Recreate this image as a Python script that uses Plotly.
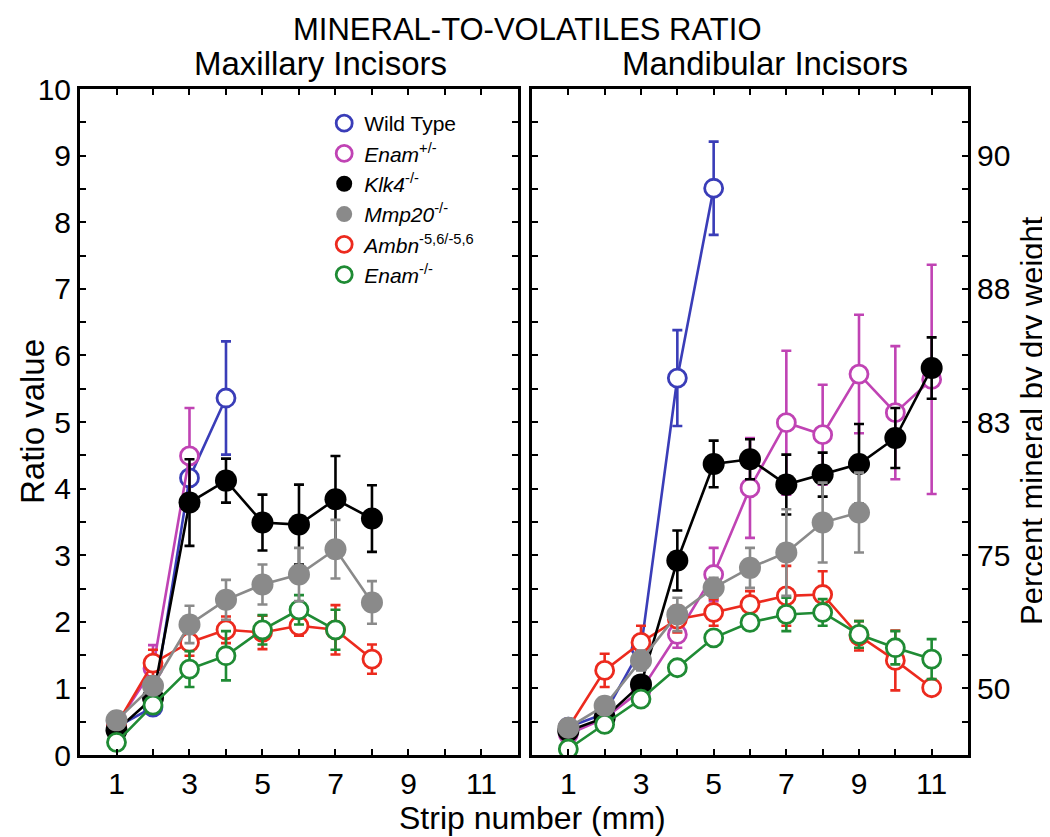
import plotly.graph_objects as go

# ---------------- data ----------------
series_names = ["Wild Type", "<i>Enam</i><sup>+/-</sup>", "<i>Klk4</i><sup>-/-</sup>",
                "<i>Mmp20</i><sup>-/-</sup>", "<i>Ambn</i><sup>-5,6/-5,6</sup>", "<i>Enam</i><sup>-/-</sup>"]
series_colors = ["#3a3db8", "#c043b4", "#000000", "#8a8a8a", "#ec2a1e", "#1f8b34"]
series_filled = [False, False, True, True, False, False]

# Maxillary incisors (left panel)
wt_max = [0.42, 0.72, 4.16, 5.36]
wt_max_err = [0.05, 0.10, 0.35, 0.85]
enh_max = [0.45, 1.30, 4.49]
enh_max_err = [0.05, 0.35, 0.72]
klk_max = [0.37, 0.86, 3.79, 4.12, 3.49, 3.46, 3.84, 3.55]
klk_max_err = [0.05, 0.10, 0.65, 0.33, 0.42, 0.60, 0.65, 0.50]
mmp_max = [0.52, 1.04, 1.96, 2.33, 2.56, 2.71, 3.09, 2.29]
mmp_max_err = [0.05, 0.10, 0.28, 0.30, 0.30, 0.40, 0.44, 0.32]
ambn_max = [0.45, 1.38, 1.69, 1.88, 1.84, 1.94, 1.88, 1.44]
ambn_max_err = [0.05, 0.20, 0.20, 0.20, 0.25, 0.15, 0.37, 0.22]
enko_max = [0.19, 0.75, 1.29, 1.49, 1.88, 2.18, 1.88]
enko_max_err = [0.05, 0.10, 0.27, 0.37, 0.22, 0.22, 0.30]

# Mandibular incisors (right panel)
wt_man = [0.42, 0.62, 1.60, 5.66, 8.51]
wt_man_err = [0.05, 0.05, 0.10, 0.72, 0.70]
enh_man = [0.31, 0.55, 0.97, 1.81, 2.71, 4.01, 4.99, 4.81, 5.72, 5.14, 5.64]
enh_man_err = [0.05, 0.05, 0.08, 0.20, 0.40, 0.75, 1.08, 0.75, 0.89, 1.00, 1.72]
klk_man = [0.36, 0.56, 1.06, 2.92, 4.37, 4.44, 4.06, 4.21, 4.37, 4.76, 5.81]
klk_man_err = [0.05, 0.05, 0.10, 0.45, 0.35, 0.30, 0.45, 0.33, 0.60, 0.45, 0.46]
mmp_man = [0.41, 0.74, 1.42, 2.11, 2.51, 2.81, 3.04, 3.49, 3.64]
mmp_man_err = [0.05, 0.10, 0.15, 0.25, 0.15, 0.30, 0.65, 0.60, 0.60]
ambn_man = [0.41, 1.27, 1.69, 2.04, 2.14, 2.26, 2.39, 2.41, 1.79, 1.42, 1.01]
ambn_man_err = [0.05, 0.25, 0.25, 0.20, 0.20, 0.20, 0.45, 0.35, 0.22, 0.45, 0.10]
enko_man = [0.09, 0.46, 0.84, 1.31, 1.76, 1.99, 2.11, 2.14, 1.81, 1.61, 1.44]
enko_man_err = [0.05, 0.05, 0.05, 0.08, 0.10, 0.10, 0.25, 0.20, 0.20, 0.25, 0.30]

# tick labels
x_tickvals = list(range(0, 13))
x_ticktext = ["", "1", "", "3", "", "5", "", "7", "", "9", "", "11", ""]
y_tickvals = [i * 0.5 for i in range(0, 21)]
y_left_text = [str(int(v)) if v == int(v) else "" for v in y_tickvals]
pct_at = {1.0: "50", 3.0: "75", 5.0: "83", 7.0: "88", 9.0: "90"}
y_right_text = [pct_at.get(v, "") for v in y_tickvals]

max_data = [(wt_max, wt_max_err), (enh_max, enh_max_err), (klk_max, klk_max_err),
            (mmp_max, mmp_max_err), (ambn_max, ambn_max_err), (enko_max, enko_max_err)]
man_data = [(wt_man, wt_man_err), (enh_man, enh_man_err), (klk_man, klk_man_err),
            (mmp_man, mmp_man_err), (ambn_man, ambn_man_err), (enko_man, enko_man_err)]

FONT = "Liberation Sans, Arial, Helvetica, sans-serif"

fig = go.Figure()

# drawing order (bottom to top)
draw_order = [0, 1, 4, 2, 5, 3]


def marker_for(i):
    if series_filled[i]:
        return dict(symbol="circle", size=22, color=series_colors[i],
                    line=dict(width=0, color=series_colors[i]))
    return dict(symbol="circle", size=18, color="white",
                line=dict(width=2.8, color=series_colors[i]))


for xa, ya, data in [("x", "y", max_data), ("x2", "y2", man_data)]:
    for i in draw_order:
        vals, errs = data[i]
        fig.add_trace(go.Scatter(
            x=list(range(1, len(vals) + 1)), y=vals,
            mode="lines+markers", xaxis=xa, yaxis=ya,
            line=dict(color=series_colors[i], width=2.6),
            marker=marker_for(i),
            error_y=dict(type="data", array=errs, visible=True,
                         color=series_colors[i], thickness=2.6, width=5),
            showlegend=False, hoverinfo="x+y"))

# legend-only entries (markers only)
for i in range(len(series_names)):
    fig.add_trace(go.Scatter(
        x=[None], y=[None], mode="markers", xaxis="x", yaxis="y",
        marker=marker_for(i), name=series_names[i], showlegend=True))

axis_common = dict(showline=True, linewidth=3, linecolor="black", mirror="ticks",
                   ticks="inside", ticklen=6, tickwidth=2, tickcolor="black",
                   showgrid=False, zeroline=False,
                   tickfont=dict(family=FONT, size=30, color="black"))

fig.update_layout(
    width=1050, height=837,
    margin=dict(l=72, r=90, t=81, b=90),
    paper_bgcolor="white", plot_bgcolor="white",
    font=dict(family=FONT, color="black"),
    xaxis=dict(domain=[0, 0.4932], range=[0, 12], anchor="y",
               tickmode="array", tickvals=x_tickvals, ticktext=x_ticktext, **axis_common),
    xaxis2=dict(domain=[0.509, 1], range=[0, 12], anchor="y2",
                tickmode="array", tickvals=x_tickvals, ticktext=x_ticktext, **axis_common),
    yaxis=dict(range=[0, 10], anchor="x", tickmode="array",
               tickvals=y_tickvals, ticktext=y_left_text, **axis_common),
    yaxis2=dict(range=[0, 10], anchor="x2", side="right", tickmode="array",
                tickvals=y_tickvals, ticktext=y_right_text, **axis_common),
    legend=dict(x=0.275, y=0.979, xanchor="left", yanchor="top",
                bgcolor="rgba(0,0,0,0)", borderwidth=0,
                font=dict(family=FONT, size=21, color="black"),
                itemwidth=30, tracegroupgap=0),
    showlegend=True,
)

fig.add_annotation(text="MINERAL-TO-VOLATILES RATIO", xref="paper", yref="paper",
                   x=0.5045, y=1.1186, xanchor="center", yanchor="top", showarrow=False,
                   font=dict(family=FONT, size=31))
fig.add_annotation(text="Maxillary Incisors", xref="paper", yref="paper",
                   x=0.271, y=1.038, xanchor="center", yanchor="middle", showarrow=False,
                   font=dict(family=FONT, size=33))
fig.add_annotation(text="Mandibular Incisors", xref="paper", yref="paper",
                   x=0.771, y=1.038, xanchor="center", yanchor="middle", showarrow=False,
                   font=dict(family=FONT, size=33))
fig.add_annotation(text="Strip number (mm)", xref="paper", yref="paper",
                   x=0.51, y=-0.0946, xanchor="center", yanchor="middle", showarrow=False,
                   font=dict(family=FONT, size=32))
fig.add_annotation(text="Ratio value", xref="paper", yref="paper",
                   x=-0.054, y=0.5, xanchor="center", yanchor="middle", showarrow=False,
                   textangle=-90, font=dict(family=FONT, size=33))
fig.add_annotation(text="Percent mineral by dry weight", xref="paper", yref="paper",
                   x=1.072, y=0.503, xanchor="center", yanchor="middle", showarrow=False,
                   textangle=-90, font=dict(family=FONT, size=31))

fig.write_html("out.html")
